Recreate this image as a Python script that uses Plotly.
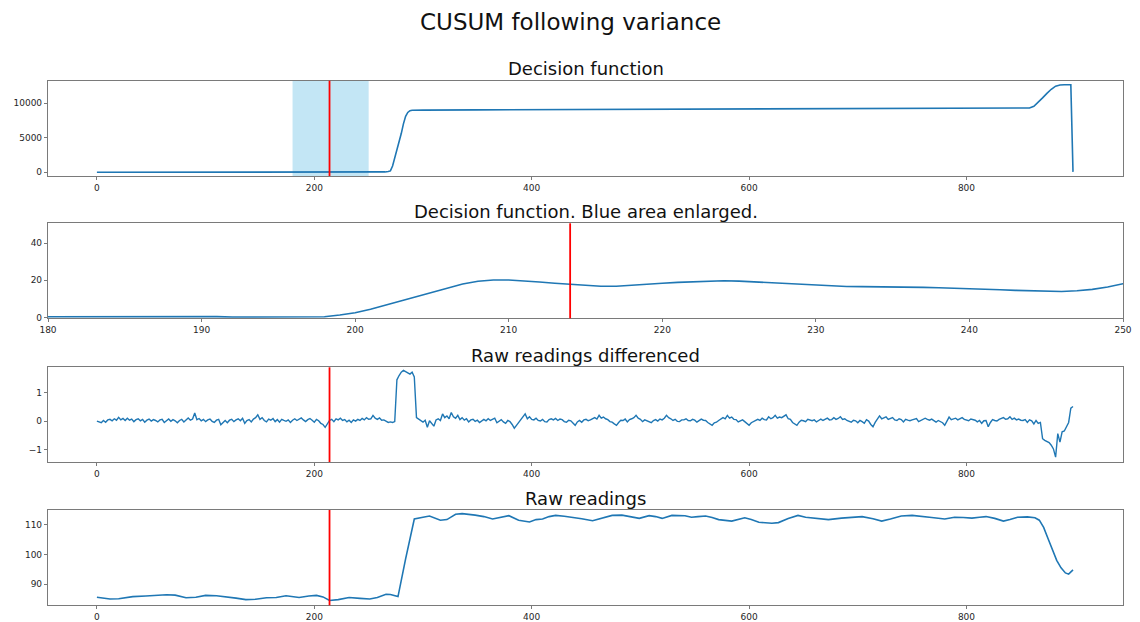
import plotly.graph_objects as go

# ---- data -------------------------------------------------------------
change_point = 214          # detected change (red marker)
zoom_window = [180, 250]    # region shaded on the first panel and shown enlarged

# CUSUM decision function
dec_x = [0, 10, 20, 30, 40, 50, 60, 70, 80, 90, 100, 110, 120, 130, 140, 150, 160, 170,
         180, 181, 182, 183, 184, 185, 186, 187, 188, 189,
         190, 191, 192, 193, 194, 195, 196, 197, 198, 199,
         200, 201, 202, 203, 204, 205, 206, 207, 208, 209,
         210, 211, 212, 213, 214, 215, 216, 217, 218, 219,
         220, 221, 222, 223, 224, 225, 226, 227, 228, 229,
         230, 231, 232, 233, 234, 235, 236, 237, 238, 239,
         240, 241, 242, 243, 244, 245, 246, 247, 248, 249, 250,
         255, 260, 265, 268, 270, 272, 274, 276, 278, 280, 282, 284, 286, 288, 290,
         295, 300, 350, 400, 450, 500, 550, 600, 630, 640, 650, 700, 750, 800, 850,
         858, 862, 866, 870, 874, 878, 882, 886, 890, 895, 896, 898]
dec_y = [0.0, 0.1, 0.1, 0.2, 0.2, 0.3, 0.2, 0.3, 0.4, 0.3, 0.2, 0.3, 0.3, 0.2, 0.3, 0.3, 0.3, 0.3,
         0.3, 0.3, 0.3, 0.3, 0.3, 0.4, 0.4, 0.5, 0.5, 0.6,
         0.7, 0.4, 0.2, 0.2, 0.2, 0.2, 0.2, 0.2, 0.3, 1.3,
         2.5, 4.4, 6.6, 9.0, 11.3, 13.6, 15.8, 18.0, 19.5, 20.2,
         20.2, 19.8, 19.1, 18.4, 17.8, 17.2, 16.8, 16.8, 17.2, 17.8,
         18.4, 18.9, 19.3, 19.6, 19.8, 19.6, 19.2, 18.6, 18.1, 17.6,
         17.2, 16.9, 16.7, 16.6, 16.6, 16.6, 16.4, 16.2, 16.0, 15.8,
         15.5, 15.2, 14.9, 14.6, 14.3, 14.1, 14.0, 14.4, 15.1, 16.4, 18.2,
         24, 30, 55, 110, 200, 900, 2000, 3200, 4300, 5600, 7000, 8100, 8650, 8900, 8960,
         8980, 8990, 9020, 9050, 9080, 9100, 9120, 9140, 9150, 9220, 9230, 9240, 9240, 9240, 9250,
         9300, 9550, 10100, 10750, 11400, 12000, 12450, 12620, 12650, 12660, 12660, 60]

# first difference of the raw readings (one value every 2 samples)
diff_x = list(range(0, 900, 2))
diff_y = [
    0.00, -0.03, -0.06, 0.02, -0.04, 0.04, 0.06, 0.01, 0.08, 0.03, 0.13, 0.04, 0.09, 0.02, 0.10,
    0.03, 0.07, -0.02, 0.05, 0.08, 0.01, 0.06, -0.04, 0.03, 0.07, 0.00, 0.05, 0.02, -0.03, 0.04,
    0.06, -0.05, 0.02, 0.07, -0.01, 0.05, 0.01, -0.06, 0.02, 0.06, -0.03, 0.04, 0.11, 0.03, 0.07,
    0.28, 0.05, 0.09, 0.01, 0.06, -0.02, 0.04, 0.07, -0.01, -0.05, 0.03, 0.06, -0.13, -0.04, 0.02,
    -0.06, 0.03, 0.06, -0.02, 0.04, 0.08, 0.01, 0.10, -0.08, 0.02, 0.05, -0.03, 0.07, 0.12, 0.22,
    0.06, 0.12, 0.02, -0.03, 0.07, 0.03, 0.09, -0.02, 0.05, -0.04, 0.06, 0.02, -0.01, 0.04, -0.05,
    0.03, 0.08, 0.02, 0.06, 0.11, 0.04, -0.02, 0.05, 0.09, 0.03, -0.04, 0.06, 0.01, -0.08, -0.12,
    -0.22, -0.08, 0.02, 0.06, -0.02, 0.08, 0.04, 0.10, 0.02, 0.05, -0.03, 0.03, -0.05, 0.04, 0.00,
    0.06, 0.02, 0.09, 0.04, 0.12, 0.06, 0.08, 0.20, 0.10, 0.06, 0.11, 0.03, 0.04, -0.02, -0.05,
    -0.03, -0.05, -0.02, 1.45, 1.60, 1.72, 1.78, 1.74, 1.70, 1.65, 1.72, 1.55, 0.12, 0.06, 0.02,
    -0.04, 0.03, -0.22, 0.01, -0.10, -0.18, 0.04, 0.08, 0.02, 0.25, 0.12, 0.18, 0.08, 0.30, 0.15,
    0.10, 0.20, 0.05, 0.12, 0.03, 0.08, -0.03, 0.04, 0.06, -0.01, 0.03, -0.05, 0.02, 0.06, 0.01,
    0.08, 0.02, 0.06, 0.10, -0.06, 0.01, 0.05, -0.03, -0.08, 0.02, -0.02, -0.12, -0.25, -0.15, -0.05,
    0.05, 0.12, 0.25, 0.08, 0.15, 0.06, 0.04, 0.10, 0.02, 0.00, 0.06, -0.02, -0.03, 0.05, 0.08,
    0.04, 0.09, 0.02, 0.07, 0.05, -0.02, -0.04, 0.03, 0.01, -0.06, -0.15, -0.03, 0.02, -0.04, 0.04,
    0.06, 0.01, 0.04, 0.08, 0.12, 0.07, 0.20, 0.10, 0.14, 0.08, 0.05, -0.02, -0.04, -0.10, -0.15,
    -0.05, 0.03, 0.02, 0.07, -0.03, 0.05, 0.08, 0.12, 0.20, 0.10, 0.06, -0.02, 0.04, 0.01, -0.03,
    -0.06, 0.02, 0.05, 0.00, 0.07, 0.04, 0.10, 0.20, 0.12, 0.08, 0.02, 0.06, -0.01, -0.02, 0.04,
    0.04, 0.08, 0.02, 0.01, 0.06, 0.03, -0.04, 0.02, 0.07, 0.03, 0.02, -0.05, -0.10, -0.15, -0.06,
    -0.04, 0.02, 0.06, 0.12, 0.08, 0.20, 0.10, 0.14, 0.06, 0.05, -0.03, 0.02, 0.04, -0.02, -0.08,
    -0.15, -0.06, -0.02, 0.04, 0.06, 0.02, 0.10, 0.05, 0.04, 0.15, 0.08, 0.12, 0.20, 0.10, 0.14,
    0.12, 0.18, 0.22, 0.08, 0.06, -0.05, -0.10, -0.15, -0.04, 0.03, 0.01, -0.02, 0.06, 0.03, 0.01,
    0.04, -0.03, 0.02, 0.07, 0.02, 0.05, 0.10, 0.04, 0.05, 0.12, 0.06, 0.09, 0.15, 0.06, 0.08,
    0.02, -0.01, -0.04, 0.03, 0.01, -0.06, 0.02, -0.02, -0.08, 0.05, 0.00, -0.12, -0.20, -0.05, 0.06,
    0.18, 0.08, 0.12, 0.15, 0.06, 0.09, 0.12, 0.04, 0.02, 0.08, 0.05, -0.03, 0.06, 0.03, 0.01,
    0.04, 0.07, 0.09, -0.02, 0.03, 0.05, 0.10, 0.06, 0.03, 0.07, 0.01, -0.04, 0.02, -0.02, -0.06,
    -0.15, 0.02, 0.14, 0.05, 0.08, 0.10, 0.04, 0.07, 0.12, 0.06, 0.03, 0.01, 0.07, 0.04, 0.03,
    -0.03, 0.02, -0.08, 0.01, 0.02, -0.20, -0.05, 0.05, 0.02, 0.00, 0.06, 0.09, 0.12, 0.06, 0.08,
    0.15, 0.06, 0.10, 0.04, 0.07, 0.03, 0.02, 0.05, -0.05, 0.04, 0.01, -0.10, 0.02, -0.08, -0.05,
    -0.62, -0.68, -0.72, -0.76, -0.85, -0.98, -1.27, -0.44, -0.74, -0.38, -0.35, -0.20, -0.05, 0.45, 0.51,
]

# raw sensor readings
raw_x = [0, 6, 12, 20, 33, 45, 64, 72, 82, 91, 100, 110, 118, 128, 137, 146, 156, 165,
         174, 180, 186, 195, 202, 208, 214, 222, 232, 242, 251, 258, 266, 270, 277,
         284, 292, 300, 306, 316, 322, 330, 336, 348, 356, 364, 372, 379, 388, 398,
         404, 410, 416, 422, 430, 437, 446, 456, 465, 474, 483, 490, 499, 508, 514,
         520, 529, 541, 547, 553, 560, 566, 572, 584, 590, 596, 602, 609, 621, 627,
         636, 645, 652, 662, 673, 685, 695, 704, 714, 722, 730, 740, 750, 760, 768,
         780, 789, 797, 805, 812, 818, 826, 834, 840, 847, 856, 863, 867, 871, 875,
         879, 883, 887, 891, 894, 896, 898]
raw_y = [85.7, 85.4, 85.1, 85.2, 85.9, 86.1, 86.5, 86.4, 85.5, 85.7, 86.3, 86.2, 85.9, 85.4,
         84.9, 85.0, 85.5, 85.6, 86.2, 86.0, 85.6, 86.1, 86.3, 85.8, 84.6, 84.9, 85.6, 85.3,
         85.1, 85.6, 86.7, 86.6, 85.9, 98.5, 111.8, 112.4, 112.8, 111.4, 111.6, 113.4, 113.6,
         113.1, 112.6, 111.8, 112.3, 112.9, 111.4, 110.8, 111.6, 111.8, 112.6, 113.0, 112.7,
         112.4, 111.9, 111.2, 112.1, 113.0, 113.1, 112.6, 112.0, 112.9, 112.6, 112.0, 113.0,
         112.9, 112.4, 112.6, 112.8, 112.3, 111.6, 111.1, 111.6, 112.2, 111.6, 110.7, 110.4,
         110.6, 112.0, 113.0, 112.4, 112.0, 111.6, 112.1, 112.4, 112.6, 111.9, 111.1, 111.8,
         112.8, 113.0, 112.7, 112.3, 111.8, 112.4, 112.3, 112.1, 112.4, 112.6, 112.0, 111.1,
         111.6, 112.4, 112.5, 112.2, 111.4, 109.0, 105.3, 101.5, 98.0, 95.5, 93.8, 93.4,
         94.0, 94.8]

# ---- styling ----------------------------------------------------------
FONT = "DejaVu Sans"
LINE = "#1f77b4"
SPINE = "#7a7a7a"
W, H = 1140, 622

x_dom = [48 / W, 1123 / W]
panels = [  # (top px, bottom px)
    (80.7, 176.0),
    (223.3, 318.3),
    (367.3, 462.0),
    (510.0, 605.3),
]
titles = ["Decision function", "Decision function. Blue area enlarged.",
          "Raw readings differenced", "Raw readings"]

fig = go.Figure()
fig.add_trace(go.Scatter(x=dec_x, y=dec_y, mode="lines", line=dict(color=LINE, width=1.6),
                         xaxis="x", yaxis="y", showlegend=False))
fig.add_trace(go.Scatter(x=dec_x, y=dec_y, mode="lines", line=dict(color=LINE, width=1.6),
                         xaxis="x2", yaxis="y2", showlegend=False))
fig.add_trace(go.Scatter(x=diff_x, y=diff_y, mode="lines", line=dict(color=LINE, width=1.4),
                         xaxis="x3", yaxis="y3", showlegend=False))
fig.add_trace(go.Scatter(x=raw_x, y=raw_y, mode="lines", line=dict(color=LINE, width=1.6),
                         xaxis="x4", yaxis="y4", showlegend=False))

full_range = [-45, 944]
x_ranges = [full_range, zoom_window, full_range, full_range]
y_ranges = [[-535, 13240], [-0.5, 50.8], [-1.44, 1.89], [83.0, 114.8]]
x_ticks = [[0, 200, 400, 600, 800], list(range(180, 251, 10)),
           [0, 200, 400, 600, 800], [0, 200, 400, 600, 800]]
y_ticks = [[0, 5000, 10000], [0, 20, 40], [-1, 0, 1], [90, 100, 110]]

axis_common = dict(showgrid=False, zeroline=False, showline=True, mirror=True,
                   linecolor=SPINE, linewidth=1.2, ticks="outside", ticklen=3,
                   tickcolor=SPINE, tickwidth=1, automargin=False, tickformat="d",
                   tickfont=dict(family=FONT, size=9, color="#262626"))

layout = dict(width=W, height=H, margin=dict(l=0, r=0, t=0, b=0, autoexpand=False),
              paper_bgcolor="white", plot_bgcolor="white",
              font=dict(family=FONT), shapes=[], annotations=[])

for i, (top, bot) in enumerate(panels):
    n = "" if i == 0 else str(i + 1)
    ydom = [1 - bot / H, 1 - top / H]
    layout["xaxis" + n] = dict(axis_common, domain=x_dom, range=x_ranges[i],
                               tickvals=x_ticks[i], anchor="y" + n)
    layout["yaxis" + n] = dict(axis_common, domain=ydom, range=y_ranges[i],
                               tickvals=y_ticks[i], anchor="x" + n)
    layout["annotations"].append(dict(
        text=titles[i], x=0.5, xref="x%s domain" % n, y=1, yref="y%s domain" % n,
        xanchor="center", yanchor="middle", yshift=12, showarrow=False,
        font=dict(family=FONT, size=18, color="#111")))
    # detected change point
    layout["shapes"].append(dict(
        type="line", xref="x" + n, yref="y%s domain" % n,
        x0=change_point, x1=change_point, y0=0, y1=1,
        line=dict(color="red", width=1.8), layer="above"))

# shaded window on the first panel
layout["shapes"].insert(0, dict(
    type="rect", xref="x", yref="y domain", x0=zoom_window[0], x1=zoom_window[1],
    y0=0, y1=1, fillcolor="rgba(135,206,235,0.5)", line=dict(width=0), layer="below"))

layout["annotations"].append(dict(
    text="CUSUM following variance", x=0.5, xref="paper", y=1 - 22 / H, yref="paper",
    xanchor="center", yanchor="middle", showarrow=False,
    font=dict(family=FONT, size=23, color="#111")))

fig.update_layout(layout)
fig.write_html("out.html")
